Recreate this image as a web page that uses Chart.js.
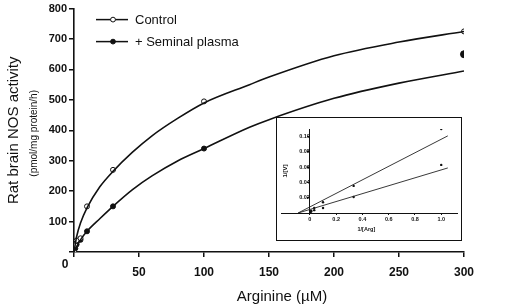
<!DOCTYPE html>
<html>
<head>
<meta charset="utf-8">
<script src="https://cdn.jsdelivr.net/npm/chart.js"></script>
<style>
  html, body { margin: 0; padding: 0; background: #fff; }
  #wrap { position: relative; width: 507px; height: 306px; }
  #main { position: absolute; left: 0; top: 0; }
  #insetBox { position: absolute; left: 276px; top: 117px; width: 184px; height: 122px; border: 1px solid #111; background: #fff; }
  #inset { display: block; }
</style>
</head>
<body>
<div id="wrap">
  <canvas id="main" width="507" height="306"></canvas>
  <div id="insetBox"><canvas id="inset" width="184" height="122"></canvas></div>
</div>
<script>
// measured points (Arginine uM vs activity pmol/mg protein/h)
const controlX = [0, 1, 2, 5, 10, 30, 100, 300];
const controlY = [0, 22, 38, 45, 150, 270, 495, 725];
const seminalX = [0, 1, 2, 5, 10, 30, 100, 300];
const seminalY = [0, 12, 25, 40, 68, 150, 340, 650];

// fitted curves
const fitX       = [0, 2, 5, 10, 20, 30, 45, 60, 80, 100, 135, 150, 200, 250, 300];
const controlFit = [0, 50, 95, 145, 215, 265, 328, 382, 440, 490, 550, 575, 645, 690, 725];
const seminalFit = [0, 18, 40, 68, 110, 150, 205, 250, 300, 340, 410, 435, 505, 555, 595];

const xTicks = [50, 100, 150, 200, 250, 300];
const yTicks = [100, 200, 300, 400, 500, 600, 700, 800];

// inset: double reciprocal plot
const invS        = [0.0033, 0.01, 0.033, 0.1, 0.333, 1.0];
const invVControl = [0.0014, 0.002, 0.0037, 0.0066, 0.021, 0.063];
const invVSeminal = [0.0015, 0.003, 0.0067, 0.014, 0.0355, 0.11];
const lineX        = [-0.09, 1.05];
const lineControl  = [0, 0.059];
const lineSeminal  = [0, 0.101];
const invXTicks = [0, 0.2, 0.4, 0.6, 0.8, 1.0];
const invYTicks = [0.02, 0.04, 0.06, 0.08, 0.10];

const FONT = "'Liberation Sans', Arial, sans-serif";
const pts = (xs, ys) => xs.map((x, i) => ({x: x, y: ys[i]}));

const extras = {
  id: 'extras',
  afterDraw(chart) {
    const c = chart.ctx, a = chart.chartArea;
    const xs = chart.scales.x, ys = chart.scales.y;
    c.save();
    c.fillStyle = '#111';
    c.strokeStyle = '#111';
    // origin label
    c.font = 'bold 12px ' + FONT;
    c.textAlign = 'center'; c.textBaseline = 'middle';
    c.fillText('0', xs.getPixelForValue(0) - 9, ys.getPixelForValue(0) + 13);
    // axis titles
    c.font = '15px ' + FONT;
    c.fillText('Arginine (\u00b5M)', xs.getPixelForValue(160), 297);
    c.save();
    c.translate(14, ys.getPixelForValue(400));
    c.rotate(-Math.PI / 2);
    c.fillText('Rat brain NOS activity', 0, 0);
    c.restore();
    c.save();
    c.translate(34, ys.getPixelForValue(390));
    c.rotate(-Math.PI / 2);
    c.font = '10px ' + FONT;
    c.fillText('(pmol/mg protein/h)', 0, 0);
    c.restore();
    // legend
    const rows = [['Control', '#fff'], ['+ Seminal plasma', '#111']];
    c.font = '13px ' + FONT;
    c.textAlign = 'left';
    c.lineWidth = 1.5;
    rows.forEach((r, i) => {
      const y = a.top + 11 + i * 22;
      c.beginPath();
      c.moveTo(a.left + 22, y); c.lineTo(a.left + 54, y);
      c.stroke();
      c.beginPath();
      c.arc(a.left + 39, y, 2.4, 0, Math.PI * 2);
      c.fillStyle = r[1]; c.fill();
      c.lineWidth = 1; c.stroke(); c.lineWidth = 1.5;
      c.fillStyle = '#111';
      c.fillText(r[0], a.left + 61, y + 1);
    });
    c.restore();
  }
};

new Chart(document.getElementById('main'), {
  type: 'scatter',
  data: {
    datasets: [
      { data: pts(fitX, controlFit), showLine: true, pointRadius: 0, borderColor: '#111', borderWidth: 1.6, cubicInterpolationMode: 'monotone' },
      { data: pts(fitX, seminalFit), showLine: true, pointRadius: 0, borderColor: '#111', borderWidth: 1.6, cubicInterpolationMode: 'monotone' },
      { data: pts(controlX, controlY), pointRadius: 2.5, pointBackgroundColor: '#fff', pointBorderColor: '#111', pointBorderWidth: 1 },
      { data: pts(seminalX, seminalY), pointRadius: ctx => ctx.dataIndex === seminalX.length - 1 ? 3.5 : 2.5,
        pointBackgroundColor: '#111', pointBorderColor: '#111', pointBorderWidth: 1 }
    ]
  },
  options: {
    responsive: false,
    animation: false,
    layout: { padding: { top: 5, right: 43, left: 0, bottom: 0 } },
    plugins: { legend: { display: false }, tooltip: { enabled: false } },
    scales: {
      x: {
        type: 'linear', min: 0, max: 300,
        afterBuildTicks: s => { s.ticks = [0].concat(xTicks).map(v => ({value: v})); },
        afterFit: s => { s.height = 54; },
        grid: { display: true, drawOnChartArea: false, tickLength: 5, color: '#111', lineWidth: 1.5 },
        border: { color: '#111', width: 1.6 },
        ticks: { color: '#111', font: { family: FONT, size: 12, weight: 'bold' }, padding: 8,
                 callback: v => v === 0 ? '' : v, maxRotation: 0 }
      },
      y: {
        min: 0, max: 800,
        afterBuildTicks: s => { s.ticks = [0].concat(yTicks).map(v => ({value: v})); },
        afterFit: s => { s.width = 74; },
        grid: { display: true, drawOnChartArea: false, tickLength: 5, color: '#111', lineWidth: 1.5 },
        border: { color: '#111', width: 1.6 },
        ticks: { color: '#111', font: { family: FONT, size: 11, weight: 'bold' }, padding: 2,
                 callback: v => v === 0 ? '' : v }
      }
    }
  },
  plugins: [extras]
});

const insetText = {
  id: 'insetText',
  afterDraw(chart) {
    const c = chart.ctx, xs = chart.scales.x, ys = chart.scales.y;
    c.save();
    c.fillStyle = '#111';
    c.font = 'bold 5.5px ' + FONT;
    c.textAlign = 'center'; c.textBaseline = 'middle';
    c.fillText('1/[Arg]', xs.getPixelForValue(0.43), ys.getPixelForValue(0) + 16);
    c.translate(xs.getPixelForValue(-0.19), ys.getPixelForValue(0.055));
    c.rotate(-Math.PI / 2);
    c.font = 'bold 6px ' + FONT;
    c.fillText('1/[V]', 0, 0);
    c.restore();
  }
};

new Chart(document.getElementById('inset'), {
  type: 'scatter',
  data: {
    datasets: [
      { data: pts(lineX, lineSeminal), showLine: true, pointRadius: 0, borderColor: '#222', borderWidth: 0.9 },
      { data: pts(lineX, lineControl), showLine: true, pointRadius: 0, borderColor: '#222', borderWidth: 0.9 },
      { data: pts(invS, invVSeminal), pointRadius: 1.2, pointBackgroundColor: '#111', pointBorderWidth: 0 },
      { data: pts(invS, invVControl), pointRadius: 1.2, pointBackgroundColor: '#111', pointBorderWidth: 0 }
    ]
  },
  options: {
    responsive: false,
    animation: false,
    layout: { padding: { top: 11, right: 4, left: 1, bottom: 0 } },
    plugins: { legend: { display: false }, tooltip: { enabled: false } },
    scales: {
      x: {
        type: 'linear', min: -0.22, max: 1.12,
        afterBuildTicks: s => { s.ticks = invXTicks.map(v => ({value: v})); },
        afterFit: s => { s.height = 27; },
        grid: { display: true, drawOnChartArea: false, tickLength: 2, color: '#111' },
        border: { color: '#111', width: 1 },
        ticks: { color: '#111', font: { family: FONT, size: 5.5, weight: 'bold' }, padding: 1, maxRotation: 0,
                 callback: v => v === 0 ? '0' : v.toFixed(1) }
      },
      y: {
        position: { x: 0 },
        min: 0, max: 0.11,
        afterBuildTicks: s => { s.ticks = invYTicks.map(v => ({value: v})); },
        grid: { display: true, drawOnChartArea: false, tickLength: 2, color: '#111' },
        border: { color: '#111', width: 1 },
        ticks: { color: '#111', font: { family: FONT, size: 5.5, weight: 'bold' }, padding: 1,
                 callback: v => v.toFixed(2) }
      }
    }
  },
  plugins: [insetText]
});
</script>
</body>
</html>
